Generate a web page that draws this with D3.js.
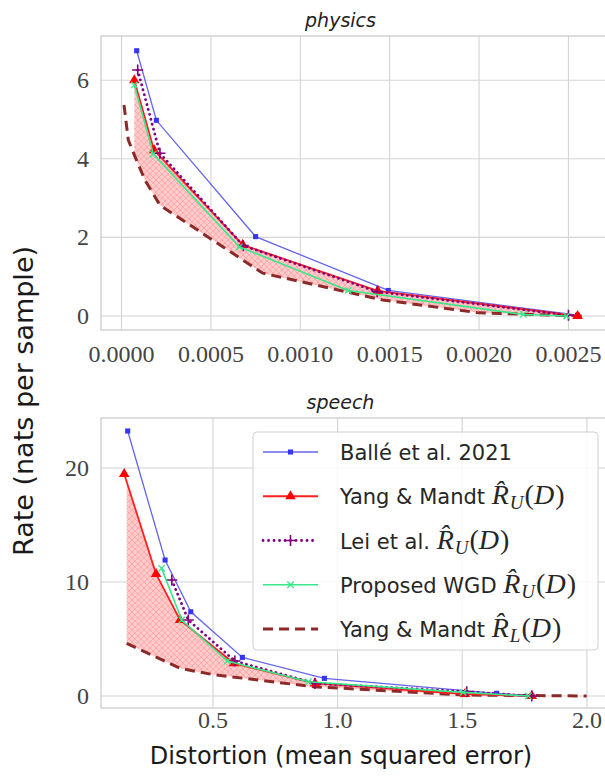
<!DOCTYPE html>
<html>
<head>
<meta charset="utf-8">
<script src="https://cdn.jsdelivr.net/npm/d3@7"></script>
<style>
  body { margin: 0; background: #fff; }
  svg { display: block; }
</style>
</head>
<body>
<svg id="chart"></svg>
<script>
// physics panel, distortion (MSE) / rate (nats per sample)
let physBalleD = [0.000085, 0.000195, 0.00075, 0.001492, 0.002551]
let physBalleR = [6.75, 4.98, 2.02, 0.65, 0.02]
let physYangUD = [0.0000716, 0.000182, 0.000678, 0.001433, 0.002551]
let physYangUR = [6.0, 4.22, 1.81, 0.64, 0.0]
let physLeiD = [0.0000906, 0.000215, 0.000681, 0.00143, 0.0025]
let physLeiR = [6.26, 4.14, 1.79, 0.62, 0.02]
let physWgdD = [0.0000716, 0.000178, 0.000659, 0.001268, 0.002247, 0.00249]
let physWgdR = [5.88, 4.12, 1.76, 0.65, 0.04, 0.0]
let physYangLD = [0.000014, 0.000038, 0.000076, 0.000131, 0.000215, 0.00079, 0.00146, 0.002, 0.00258]
let physYangLR = [5.37, 4.48, 4.05, 3.46, 2.82, 1.09, 0.41, 0.08, 0.0]

// speech panel
let speechBalleD = [0.158, 0.308, 0.411, 0.618, 0.947, 1.638, 1.779]
let speechBalleR = [23.25, 11.93, 7.39, 3.39, 1.55, 0.24, 0.02]
let speechYangUD = [0.144, 0.272, 0.368, 0.584, 0.909, 1.511, 1.779]
let speechYangUR = [19.47, 10.7, 6.67, 2.87, 1.11, 0.18, 0.0]
let speechLeiD = [0.335, 0.401, 0.588, 0.909, 1.518, 1.779]
let speechLeiR = [10.18, 6.67, 3.07, 1.11, 0.38, 0.0]
let speechWgdD = [0.294, 0.375, 0.558, 0.883, 1.504, 1.765]
let speechWgdR = [11.2, 6.67, 3.07, 1.25, 0.32, 0.0]
let speechYangLD = [0.154, 0.368, 0.5, 0.903, 1.504, 1.999]
let speechYangLR = [4.62, 2.43, 1.88, 0.82, 0.09, 0.0]

let physXTicks = [0, 0.0005, 0.001, 0.0015, 0.002, 0.0025]
let physYTicks = [0, 2, 4, 6]
let speechXTicks = [0.5, 1.0, 1.5, 2.0]
let speechYTicks = [0, 10, 20]

let legendNames = ['Ballé et al. 2021', 'Yang & Mandt ', 'Lei et al. ', 'Proposed WGD ', 'Yang & Mandt ']
let legendSubs = [null, 'U', 'U', 'U', 'L']

let styles = {
    balle: { color: '#6464ee', mcolor: '#3535f2', width: 1.3, dash: null, marker: 'square' },
    yangU: { color: '#ff2020', mcolor: '#ff0000', width: 1.8, dash: null, marker: 'triangle' },
    lei: { color: '#800080', mcolor: '#800080', width: 2.8, dash: '0.1,5', marker: 'plus' },
    wgd: { color: '#38e88a', mcolor: '#38e88a', width: 1.6, dash: null, marker: 'cross' },
    yangL: { color: '#8c2929', mcolor: '#8c2929', width: 3, dash: '10,6', marker: null },
}
let legendKeys = ['balle', 'yangU', 'lei', 'wgd', 'yangL']

let W = 605, H = 778
let svg = d3.select('#chart').attr('width', W).attr('height', H)
let defs = svg.append('defs')

let pat = defs.append('pattern')
    .attr('id', 'hatch')
    .attr('width', 6).attr('height', 6)
    .attr('patternUnits', 'userSpaceOnUse')
pat.append('rect').attr('width', 6).attr('height', 6).attr('fill', '#ffcaca')
pat.append('path').attr('d', 'M0,0L6,6M6,0L0,6M-1,5L1,7M5,-1L7,1')
    .attr('stroke', '#ffa2a2').attr('stroke-width', 0.8)

function markerPath(type) {
    if (type === 'square') return d3.symbol(d3.symbolSquare, 26)()
    if (type === 'triangle') return d3.symbol(d3.symbolTriangle, 48)()
    if (type === 'plus') return 'M-5.5,0L5.5,0M0,-5.5L0,5.5'
    if (type === 'cross') return 'M-3.2,-3.2L3.2,3.2M-3.2,3.2L3.2,-3.2'
    return ''
}

function drawMarker(g, type, st, x, y) {
    let p = g.append('path').attr('d', markerPath(type))
        .attr('transform', 'translate(' + x + ',' + y + ')')
    if (type === 'plus' || type === 'cross') {
        p.attr('fill', 'none').attr('stroke', st.mcolor).attr('stroke-width', type === 'plus' ? 1.6 : 1.3)
    } else {
        p.attr('fill', st.mcolor)
    }
}

function interp(xs, ys, x) {
    if (x <= xs[0]) return ys[0]
    for (let i = 1; i < xs.length; i++) {
        if (x <= xs[i]) {
            let t = (x - xs[i - 1]) / (xs[i] - xs[i - 1])
            return ys[i - 1] + t * (ys[i] - ys[i - 1])
        }
    }
    return ys[ys.length - 1]
}

function drawPanel(opts) {
    let g = svg.append('g')
    let x = d3.scaleLinear().domain(opts.xDomain).range([opts.left, opts.right])
    let y = d3.scaleLinear().domain(opts.yDomain).range([opts.bottom, opts.top])

    let clipId = 'clip-' + opts.name
    defs.append('clipPath').attr('id', clipId)
        .append('rect')
        .attr('x', opts.left).attr('y', opts.top)
        .attr('width', opts.right - opts.left).attr('height', opts.bottom - opts.top)

    // grid
    g.selectAll('.vgrid').data(opts.xTicks).enter().append('line')
        .attr('x1', d => x(d)).attr('x2', d => x(d))
        .attr('y1', opts.top).attr('y2', opts.bottom)
        .attr('stroke', '#d4d4d4').attr('stroke-width', 1.1)
    g.selectAll('.hgrid').data(opts.yTicks).enter().append('line')
        .attr('x1', opts.left).attr('x2', opts.right)
        .attr('y1', d => y(d)).attr('y2', d => y(d))
        .attr('stroke', '#d4d4d4').attr('stroke-width', 1.1)

    // frame
    g.append('rect')
        .attr('x', opts.left).attr('y', opts.top)
        .attr('width', opts.right - opts.left).attr('height', opts.bottom - opts.top)
        .attr('fill', 'none').attr('stroke', '#cccccc').attr('stroke-width', 1.3)

    // tick labels
    g.selectAll('.xt').data(opts.xTicks).enter().append('text')
        .attr('x', d => x(d)).attr('y', opts.xLabelY)
        .attr('text-anchor', 'middle')
        .attr('font-family', 'Liberation Serif, serif')
        .attr('font-size', 24).attr('fill', '#444')
        .text(d => opts.fmt(d))
    g.selectAll('.yt').data(opts.yTicks).enter().append('text')
        .attr('x', 89).attr('y', d => y(d) + 8)
        .attr('text-anchor', 'end')
        .attr('font-family', 'Liberation Serif, serif')
        .attr('font-size', 24).attr('fill', '#444')
        .text(d => d)

    // title
    g.append('text')
        .attr('x', (opts.left + 580) / 2).attr('y', opts.top - 9)
        .attr('text-anchor', 'middle')
        .attr('font-family', 'DejaVu Sans, sans-serif')
        .attr('font-style', 'italic')
        .attr('font-size', 19).attr('fill', '#222')
        .text(opts.name)

    let plot = g.append('g').attr('clip-path', 'url(#' + clipId + ')')

    // hatched region between the two Yang & Mandt bounds
    let su = opts.series.yangU, sl = opts.series.yangL
    let lo = Math.max(su.d[0], sl.d[0]), hi = Math.min(su.d[su.d.length - 1], sl.d[sl.d.length - 1])
    let xs = Array.from(new Set([lo, hi].concat(su.d, sl.d))).filter(v => v >= lo && v <= hi).sort((a, b) => a - b)
    let area = d3.area()
        .x(d => x(d))
        .y0(d => y(interp(sl.d, sl.r, d)))
        .y1(d => y(interp(su.d, su.r, d)))
    plot.append('path').attr('d', area(xs)).attr('fill', 'url(#hatch)')

    let line = d3.line().x(d => x(d[0])).y(d => y(d[1]))
    let order = ['yangL', 'balle', 'yangU', 'lei', 'wgd']
    order.forEach(k => {
        let s = opts.series[k], st = styles[k]
        let pts = s.d.map((d, i) => [d, s.r[i]])
        let p = plot.append('path').attr('d', line(pts))
            .attr('fill', 'none').attr('stroke', st.color)
            .attr('stroke-width', st.width)
        if (st.dash) p.attr('stroke-dasharray', st.dash)
        if (k === 'lei') p.attr('stroke-linecap', 'round')
        if (st.marker) pts.forEach(pt => drawMarker(plot, st.marker, st, x(pt[0]), y(pt[1])))
    })
}

drawPanel({
    name: 'physics',
    left: 101, right: 606, top: 36, bottom: 330,
    xDomain: [-0.0001147, 0.00271], yDomain: [-0.356, 7.125],
    xTicks: physXTicks, yTicks: physYTicks,
    fmt: d3.format('.4f'), xLabelY: 362,
    series: {
        balle: { d: physBalleD, r: physBalleR },
        yangU: { d: physYangUD, r: physYangUR },
        lei: { d: physLeiD, r: physLeiR },
        wgd: { d: physWgdD, r: physWgdR },
        yangL: { d: physYangLD, r: physYangLR },
    },
})

drawPanel({
    name: 'speech',
    left: 101, right: 606, top: 418, bottom: 708,
    xDomain: [0.0509, 2.0766], yDomain: [-1.05, 24.39],
    xTicks: speechXTicks, yTicks: speechYTicks,
    fmt: d3.format('.1f'), xLabelY: 728,
    series: {
        balle: { d: speechBalleD, r: speechBalleR },
        yangU: { d: speechYangUD, r: speechYangUR },
        lei: { d: speechLeiD, r: speechLeiR },
        wgd: { d: speechWgdD, r: speechWgdR },
        yangL: { d: speechYangLD, r: speechYangLR },
    },
})

// legend
let leg = svg.append('g')
leg.append('rect')
    .attr('x', 253).attr('y', 432).attr('width', 345).attr('height', 218)
    .attr('rx', 4).attr('fill', '#fff').attr('fill-opacity', 0.85)
    .attr('stroke', '#d0d0d0').attr('stroke-width', 1)

let rowY = d3.scalePoint().domain(d3.range(legendKeys.length)).range([452, 629])
legendKeys.forEach((k, i) => {
    let st = styles[k], cy = rowY(i)
    let l = leg.append('line')
        .attr('x1', 263).attr('x2', 318).attr('y1', cy).attr('y2', cy)
        .attr('stroke', st.color).attr('stroke-width', st.width)
    if (st.dash) l.attr('stroke-dasharray', k === 'lei' ? '0.1,5.4' : st.dash)
    if (k === 'lei') l.attr('stroke-linecap', 'round')
    if (st.marker) drawMarker(leg, st.marker, st, 290.5, cy)

    let t = leg.append('text')
        .attr('x', 340).attr('y', cy + 8)
        .attr('font-size', 21).attr('fill', '#262626')
    t.append('tspan').attr('font-family', 'DejaVu Sans, sans-serif').text(legendNames[i])
    if (legendSubs[i]) {
        let mf = 'Liberation Serif, serif'
        t.append('tspan').attr('font-family', mf).attr('font-style', 'italic')
            .attr('font-size', 28).text('R\u0302')
        t.append('tspan').attr('font-family', mf).attr('font-style', 'italic')
            .attr('font-size', 19).attr('dy', 5).attr('dx', 1).text(legendSubs[i])
        t.append('tspan').attr('font-family', mf).attr('font-size', 28).attr('dy', -5).attr('dx', 1).text('(')
        t.append('tspan').attr('font-family', mf).attr('font-style', 'italic').attr('font-size', 28).text('D')
        t.append('tspan').attr('font-family', mf).attr('font-size', 28).attr('dx', 1).text(')')
    }
})

// axis labels
svg.append('text')
    .attr('transform', 'translate(33,401) rotate(-90)')
    .attr('text-anchor', 'middle')
    .attr('font-family', 'DejaVu Sans, sans-serif')
    .attr('font-size', 27).attr('fill', '#1a1a1a')
    .text('Rate (nats per sample)')
svg.append('text')
    .attr('x', 341).attr('y', 764)
    .attr('text-anchor', 'middle')
    .attr('font-family', 'DejaVu Sans, sans-serif')
    .attr('font-size', 24).attr('fill', '#1a1a1a')
    .text('Distortion (mean squared error)')
</script>
</body>
</html>
